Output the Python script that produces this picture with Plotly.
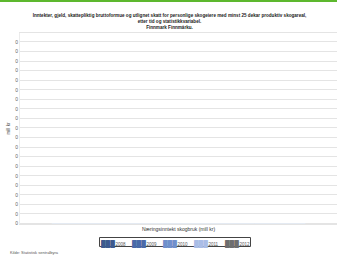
import plotly.graph_objects as go

# ---- data ----
title_lines = [
    "Inntekter, gjeld, skattepliktig bruttoformue og utlignet skatt for personlige skogeiere med minst 25 dekar produktiv skogareal,",
    "etter tid og statistikkvariabel.",
    "Finnmark Finnmárku.",
]
categories = ["Næringsinntekt skogbruk (mill kr)"]
years = ["2008", "2009", "2010", "2011", "2012"]
values_2008 = [0]
values_2009 = [0]
values_2010 = [0]
values_2011 = [0]
values_2012 = [0]
series_values = [values_2008, values_2009, values_2010, values_2011, values_2012]
colors = ["#3d5a8e", "#4a6aa8", "#7090cc", "#aabde6", "#6e6e6e"]
y_title = "mill kr"
source_text = "Kilde: Statistisk sentralbyrå"

W, H = 339, 255
ml, mr, mt, mb = 20, 2, 33, 31
pw, ph = W - ml - mr, H - mt - mb

fig = go.Figure()
for yr, vals, col in zip(years, series_values, colors):
    fig.add_trace(go.Bar(x=categories, y=vals, name=yr, marker_color=col,
                         showlegend=False))
# legend entries: colour swatch as text block + year
for i, (yr, col) in enumerate(zip(years, colors)):
    label = ('<span style="color:%s;font-size:6.5px">███</span>'
             '<span style="color:#fff;font-size:2px">.</span>%s' % (col, yr))
    fig.add_trace(go.Scatter(x=[None], y=[None], name=label, mode="none",
                             legendwidth=(1 if i < len(years) - 1 else 30)))

fig.update_layout(
    width=W, height=H,
    margin=dict(l=ml, r=mr, t=mt, b=mb, pad=0, autoexpand=False),
    paper_bgcolor="white", plot_bgcolor="white",
    font=dict(family="Liberation Sans, Arial, sans-serif", size=5, color="#333"),
    title=dict(text="<b>" + "<br>".join(title_lines) + "</b>",
               x=0.5, xanchor="center", y=1 - 17 / H, yanchor="top",
               font=dict(size=4.6, color="#222")),
    barmode="group",
    xaxis=dict(showgrid=False, showline=True, mirror=True, linecolor="#e4e4e4",
               linewidth=1, ticks="", tickfont=dict(size=5, color="#333"),
               fixedrange=True),
    yaxis=dict(range=[-0.00005, 0.01994], dtick=0.001, tick0=0,
               tickformat=".0f", showgrid=True, gridcolor="#e4e4e4",
               zeroline=True, zerolinecolor="#e4e4e4", zerolinewidth=1,
               showline=True, linecolor="#ececec",
               tickfont=dict(size=5, color="#666"),
               title=dict(text=y_title, font=dict(size=4.6, color="#555"), standoff=4)),
    legend=dict(orientation="h", x=(76 - ml) / pw, xanchor="left",
                y=-(230 - (H - mb)) / ph, yanchor="top",
                borderwidth=0, bgcolor="rgba(0,0,0,0)",
                font=dict(size=4.5, color="#555"),
                itemwidth=30, indentation=-15, entrywidth=1,
                entrywidthmode="pixels"),
    showlegend=True,
)

# legend frame
fig.add_shape(type="rect", xref="paper", yref="paper",
              x0=(99.5 - ml) / pw, x1=(250.5 - ml) / pw,
              y0=-(246.5 - (H - mb)) / ph, y1=-(237.5 - (H - mb)) / ph,
              line=dict(color="#444", width=1))

# green top rule
fig.add_shape(type="line", xref="paper", yref="paper",
              x0=-ml / pw, x1=1,
              y0=1 + (mt - 1) / ph, y1=1 + (mt - 1) / ph,
              line=dict(color="#5db82e", width=2))

fig.add_annotation(text=source_text, xref="paper", yref="paper",
                   x=-(ml - 8) / pw, xanchor="left",
                   y=-(mb - 3) / ph, yanchor="middle",
                   showarrow=False, font=dict(size=4, color="#555"))

fig.write_html("out.html", config={"displayModeBar": False},
               post_script="document.body.style.margin='0';document.body.style.overflow='hidden';")
